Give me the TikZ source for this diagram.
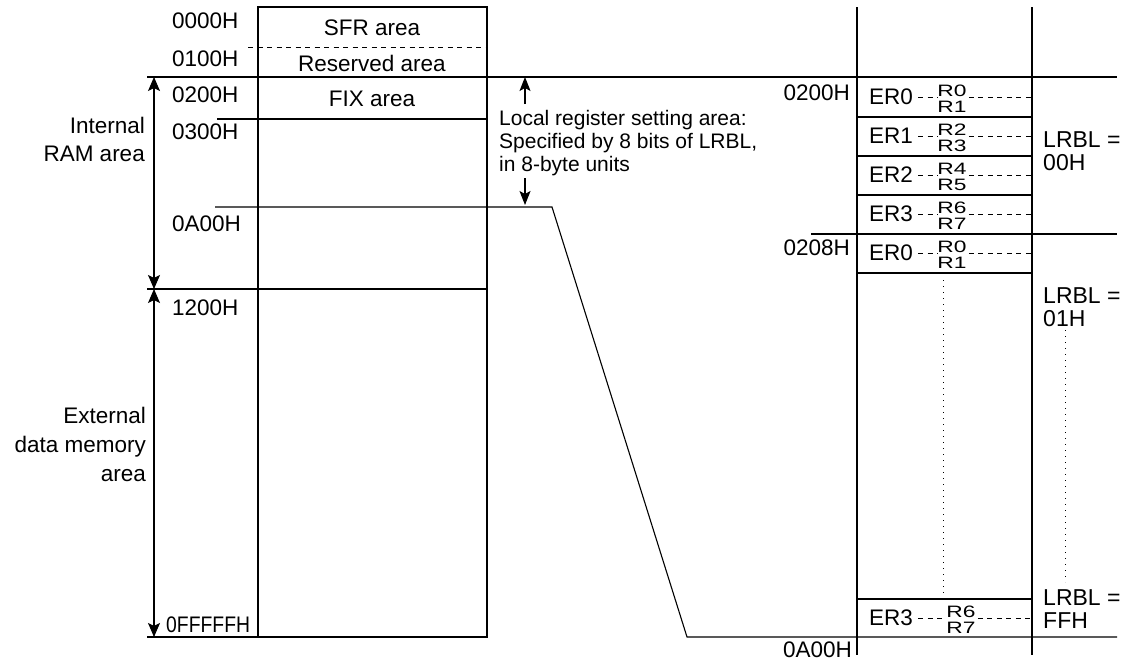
\documentclass[tikz,border=0pt]{standalone}
\usepackage{fontspec}
\setmainfont{Liberation Sans}
\newfontfamily\regfont[FakeStretch=1.38]{Liberation Sans}
\newfontfamily\condfont[FakeStretch=0.86]{Liberation Sans}
\usetikzlibrary{arrows.meta, positioning}

\begin{document}
\begin{tikzpicture}[x=1pt, y=-1pt,
  every node/.style={font=\fontsize{22.5}{25}\selectfont, inner sep=0pt},
  ln/.style={line width=1.1pt},
  dsh/.style={line width=0.9pt, dash pattern=on 5pt off 4.5pt},
  dotln/.style={line width=0.9pt, dash pattern=on 1pt off 5pt},
  arr/.style={-{Stealth[length=14pt, width=11pt, inset=3pt]}, line width=1.1pt},
  darr/.style={{Stealth[length=14pt, width=12pt, inset=3pt]}-{Stealth[length=14pt, width=12pt, inset=3pt]}, line width=1.1pt},
  addr/.style={anchor=west},
  raddr/.style={anchor=east},
  note/.style={align=left, anchor=west, font=\fontsize{21}{23}\selectfont},
  lrbl/.style={align=left, anchor=west, font=\fontsize{23}{23}\selectfont},
  rlbl/.style={font=\regfont\fontsize{16.5}{16.5}\selectfont},
]
\useasboundingbox (0,0) rectangle (1132,662);

% Memory map
\draw[ln] (258,7) rectangle (487,637);
\draw[dsh] (248,47) -- (487,47);
\draw[ln] (147,77) -- (1117,77);
\draw[ln] (217,119) -- (487,119);
\draw[ln] (147,289) -- (487,289);
\draw[ln] (147,637) -- (487,637);
\draw[ln] (215,207) -- (552,207) -- (687,637) -- (1117,637);

\node[addr] (a0000) at (172,21) {0000H};
\node[addr] (a0100) at (172,59) {0100H};
\node[addr] (a0200) at (172,95) {0200H};
\node[addr] (a0300) at (172,132) {0300H};
\node[addr] (a0A00) at (172,224) {0A00H};
\node[addr] (a1200) at (172,308) {1200H};
\node[addr, font=\condfont\fontsize{22.5}{25}\selectfont] (aFFFF) at (166,625) {0FFFFFH};

\node (sfr) at (372,28) {SFR area};
\node (rsv) at (372,63) {Reserved area};
\node (fix) at (372,99) {FIX area};

% Area ranges
\coordinate (iTop) at (154,77);
\coordinate (iBot) at (154,289);
\coordinate (eBot) at (154,637);
\draw[darr] (iTop) -- (iBot);
\draw[darr] (iBot) -- (eBot);
\node[align=right, anchor=east, font=\fontsize{22.5}{28}\selectfont] (intram) at (145,139) {Internal\\RAM area};
\node[align=right, anchor=east, font=\fontsize{22.5}{29}\selectfont] (extmem) at (146,444) {External\\data memory\\area};

% Local register setting area
\node[note] (local) at (499,143) {Local register setting area:\\Specified by 8 bits of LRBL,\\in 8-byte units};
\coordinate (lTop) at (525,77);
\coordinate (lBot) at (525,205);
\draw[arr] ([yshift=-27pt]lTop) -- (lTop);
\draw[arr] ([yshift=27pt]lBot) -- (lBot);

% Register banks
\draw[ln] (857,7) -- (857,655);
\draw[ln] (1032,7) -- (1032,655);
\node[raddr] (r0200) at (850,93) {0200H};
\node[raddr] (r0208) at (850,248) {0208H};
\node[raddr] (r0A00) at (852,650) {0A00H};

\foreach \n/\yc/\ername/\rega/\regb/\rx in {a/97/ER0/R0/R1/952, b/136/ER1/R2/R3/952, c/175/ER2/R4/R5/952, d/214/ER3/R6/R7/952, e/253/ER0/R0/R1/952, f/618/ER3/R6/R7/961}{
  \node[anchor=west] (er\n) at (869,\yc) {\ername};
  \node[rlbl, anchor=south] (rt\n) at (\rx,\yc) {\rega};
  \node[rlbl, anchor=north] (rb\n) at (\rx,\yc+4) {\regb};
  \draw[dsh] ([xshift=5pt]er\n.east) -- (er\n.east -| rt\n.west);
  \draw[dsh] ([xshift=2pt]rt\n.south east) -- (1032,\yc);
}

\foreach \y in {117,156,195,273,599}
  \draw[ln] (857,\y) -- (1032,\y);
\draw[ln] (811,234) -- (1117,234);

\draw[dotln] (943,280) -- (943,595);
\draw[dotln] (1065,330) -- (1065,582);

\node[lrbl] (lrbl00) at (1043,151) {LRBL =\\00H};
\node[lrbl] (lrbl01) at (1043,307) {LRBL =\\01H};
\node[lrbl] (lrblFF) at (1043,609) {LRBL =\\FFH};
\end{tikzpicture}
\end{document}
